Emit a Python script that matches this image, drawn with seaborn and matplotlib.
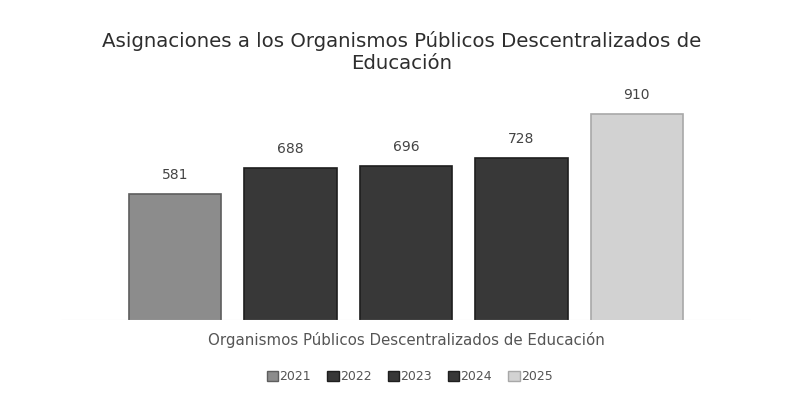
import pandas as pd
import matplotlib.pyplot as plt
import seaborn as sns
from matplotlib.patches import Patch

# datos
categoria = 'Organismos Públicos Descentralizados de Educación'
anios = ['2021', '2022', '2023', '2024', '2025']
montos = [581, 688, 696, 728, 910]
colores = ['#8c8c8c', '#383838', '#383838', '#383838', '#d2d2d2']
bordes = ['#5e5e5e', '#1e1e1e', '#1e1e1e', '#1e1e1e', '#a8a8a8']

df = pd.DataFrame({'categoria': [categoria] * len(anios), 'anio': anios, 'monto': montos})

sns.set_style('white')
plt.rcParams['font.family'] = ['DejaVu Sans']

fig = plt.figure(figsize=(7.88, 4.01), dpi=100)
ax = fig.add_axes([61 / 788, 81 / 401, 690 / 788, 230 / 401])

sns.barplot(data=df, x='categoria', y='monto', hue='anio', palette=colores,
            width=0.836, gap=0.2, legend=False, ax=ax, saturation=1)

for patch, ec in zip(ax.patches, bordes):
    patch.set_edgecolor(ec)
    patch.set_linewidth(1.2)

for cont in ax.containers:
    ax.bar_label(cont, fmt='%d', padding=9, fontsize=10, color='#444444')

ax.set_ylim(63, 1009)
ax.set_xlim(-0.5, 0.5)
ax.set_yticks([])
ax.set_xticks([])
ax.set_ylabel('')
ax.set_xlabel(categoria, fontsize=10.8, color='#555555', labelpad=9)
sns.despine(ax=ax, left=True, bottom=True)
ax.axhline(63, color='#e4e4e4', lw=0.8)

fig.text(0.51, 0.87, 'Asignaciones a los Organismos Públicos Descentralizados de\nEducación',
         ha='center', va='center', fontsize=14.2, color='#2e2e2e', linespacing=1.2)

handles = [Patch(facecolor=c, edgecolor=e, label=a) for c, e, a in zip(colores, bordes, anios)]
fig.legend(handles=handles, loc='center', bbox_to_anchor=(0.52, 0.06), ncol=5,
           frameon=False, fontsize=9, handlelength=0.9, handleheight=0.9,
           handletextpad=0.1, columnspacing=1.3, labelcolor='#555555')

plt.savefig('out.png', dpi=100)
